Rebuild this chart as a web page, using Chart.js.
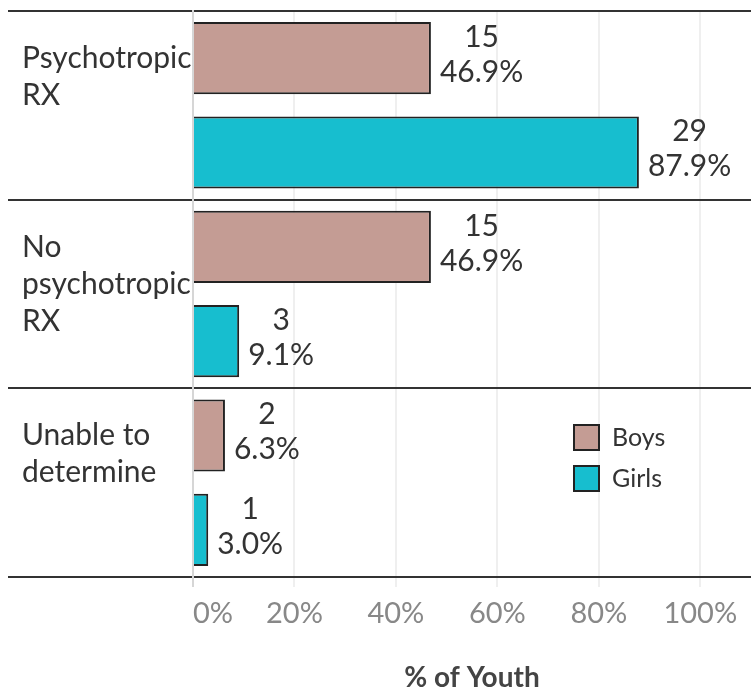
<!DOCTYPE html>
<html>
<head>
<meta charset="utf-8">
<script src="https://cdn.jsdelivr.net/npm/chart.js@4.4.1/dist/chart.umd.min.js"></script>
<style>
  body { margin: 0; background: #fff; }
  #wrap { width: 751px; height: 690px; position: relative; }
</style>
</head>
<body>
<div id="wrap"><canvas id="rxChart"></canvas></div>
<script>
// categories (each is split into lines for the axis)
const categories = [
  ['Psychotropic', 'RX'],
  ['No', 'psychotropic', 'RX'],
  ['Unable to', 'determine']
];
const seriesNames = ['Boys', 'Girls'];

// % of youth
const boysPct = [46.9, 46.9, 6.3];
const girlsPct = [87.9, 9.1, 3.0];

// counts shown above the percentages
const boysCount = [15, 15, 2];
const girlsCount = [29, 3, 1];

const xTicks = [0, 20, 40, 60, 80, 100];

const counts = [boysCount, girlsCount];
const FONT = 'Lato, "Open Sans", sans-serif';

// draws the "count / percent" label next to every bar
const barLabels = {
  id: 'barLabels',
  afterDatasetsDraw(chart) {
    const ctx = chart.ctx;
    ctx.save();
    ctx.font = '30px ' + FONT;
    ctx.fillStyle = '#333';
    ctx.textAlign = 'center';
    ctx.textBaseline = 'middle';
    chart.data.datasets.forEach((ds, di) => {
      chart.getDatasetMeta(di).data.forEach((bar, i) => {
        const lines = [String(counts[di][i]), ds.data[i].toFixed(1) + '%'];
        const w = Math.max(...lines.map(t => ctx.measureText(t).width));
        const cx = bar.x + 9 + w / 2;
        ctx.fillText(lines[0], cx, bar.y - 21);
        ctx.fillText(lines[1], cx, bar.y + 14);
      });
    });
    ctx.restore();
  }
};

// legend boxes sitting inside the lower group
const boxLegend = {
  id: 'boxLegend',
  afterDatasetsDraw(chart) {
    const ctx = chart.ctx;
    const area = chart.chartArea;
    const left = area.left + 381;
    let top = area.top + 414;
    ctx.save();
    ctx.font = '25px ' + FONT;
    ctx.textBaseline = 'middle';
    chart.data.datasets.forEach(ds => {
      ctx.fillStyle = ds.backgroundColor;
      ctx.fillRect(left, top, 25, 25);
      ctx.lineWidth = 2;
      ctx.strokeStyle = '#222';
      ctx.strokeRect(left, top, 25, 25);
      ctx.fillStyle = '#333';
      ctx.fillText(ds.label, left + 38, top + 13);
      top += 41;
    });
    ctx.restore();
  }
};

const ctx = document.getElementById('rxChart').getContext('2d');
new Chart(ctx, {
  type: 'bar',
  data: {
    labels: categories,
    datasets: [{
      label: seriesNames[0],
      data: boysPct,
      backgroundColor: '#c49c94',
      borderColor: '#222',
      borderWidth: 2
    }, {
      label: seriesNames[1],
      data: girlsPct,
      backgroundColor: '#17becf',
      borderColor: '#222',
      borderWidth: 2
    }]
  },
  options: {
    indexAxis: 'y',
    responsive: true,
    maintainAspectRatio: false,
    animation: false,
    layout: { padding: { top: 11, left: 22, right: 0, bottom: 0 } },
    datasets: { bar: { categoryPercentage: 1.0, barPercentage: 0.765 } },
    plugins: {
      legend: { display: false },
      tooltip: { enabled: false }
    },
    scales: {
      x: {
        min: 0,
        max: 110,
        afterBuildTicks: axis => {
          axis.ticks = xTicks.concat([110]).map(v => ({ value: v }));
        },
        afterFit: scale => {
          scale.height = 113;
          scale.paddingLeft = 0;
          scale.paddingRight = 0;
        },
        border: { display: false },
        grid: {
          color: c => c.tick.value === 0 ? '#d6d6d6' : (c.tick.value > 100 ? 'rgba(0,0,0,0)' : '#efefef'),
          lineWidth: 2,
          tickLength: 10
        },
        ticks: {
          align: 'inner',
          padding: 9,
          color: '#888',
          font: { family: FONT, size: 29 },
          callback: v => v > 100 ? '' : v + '%'
        },
        title: {
          display: true,
          text: '% of Youth',
          color: '#444',
          font: { family: FONT, size: 28, weight: 'bold' },
          padding: { top: 0, bottom: -5 }
        }
      },
      y: {
        afterFit: scale => {
          scale.width = 171;
          scale.paddingTop = 0;
          scale.paddingBottom = 0;
        },
        border: { color: '#d6d6d6', width: 2 },
        grid: {
          offset: true,
          color: '#333',
          lineWidth: 2,
          tickLength: 185
        },
        ticks: {
          autoSkip: false,
          crossAlign: 'far',
          labelOffset: -10,
          color: '#333',
          font: { family: FONT, size: 30, lineHeight: '37px' },
          callback: function (v, i) {
            const lines = categories[i].slice();
            while (lines.length < 3) lines.push('');
            return lines;
          }
        }
      }
    }
  },
  plugins: [barLabels, boxLegend]
});
</script>
</body>
</html>
